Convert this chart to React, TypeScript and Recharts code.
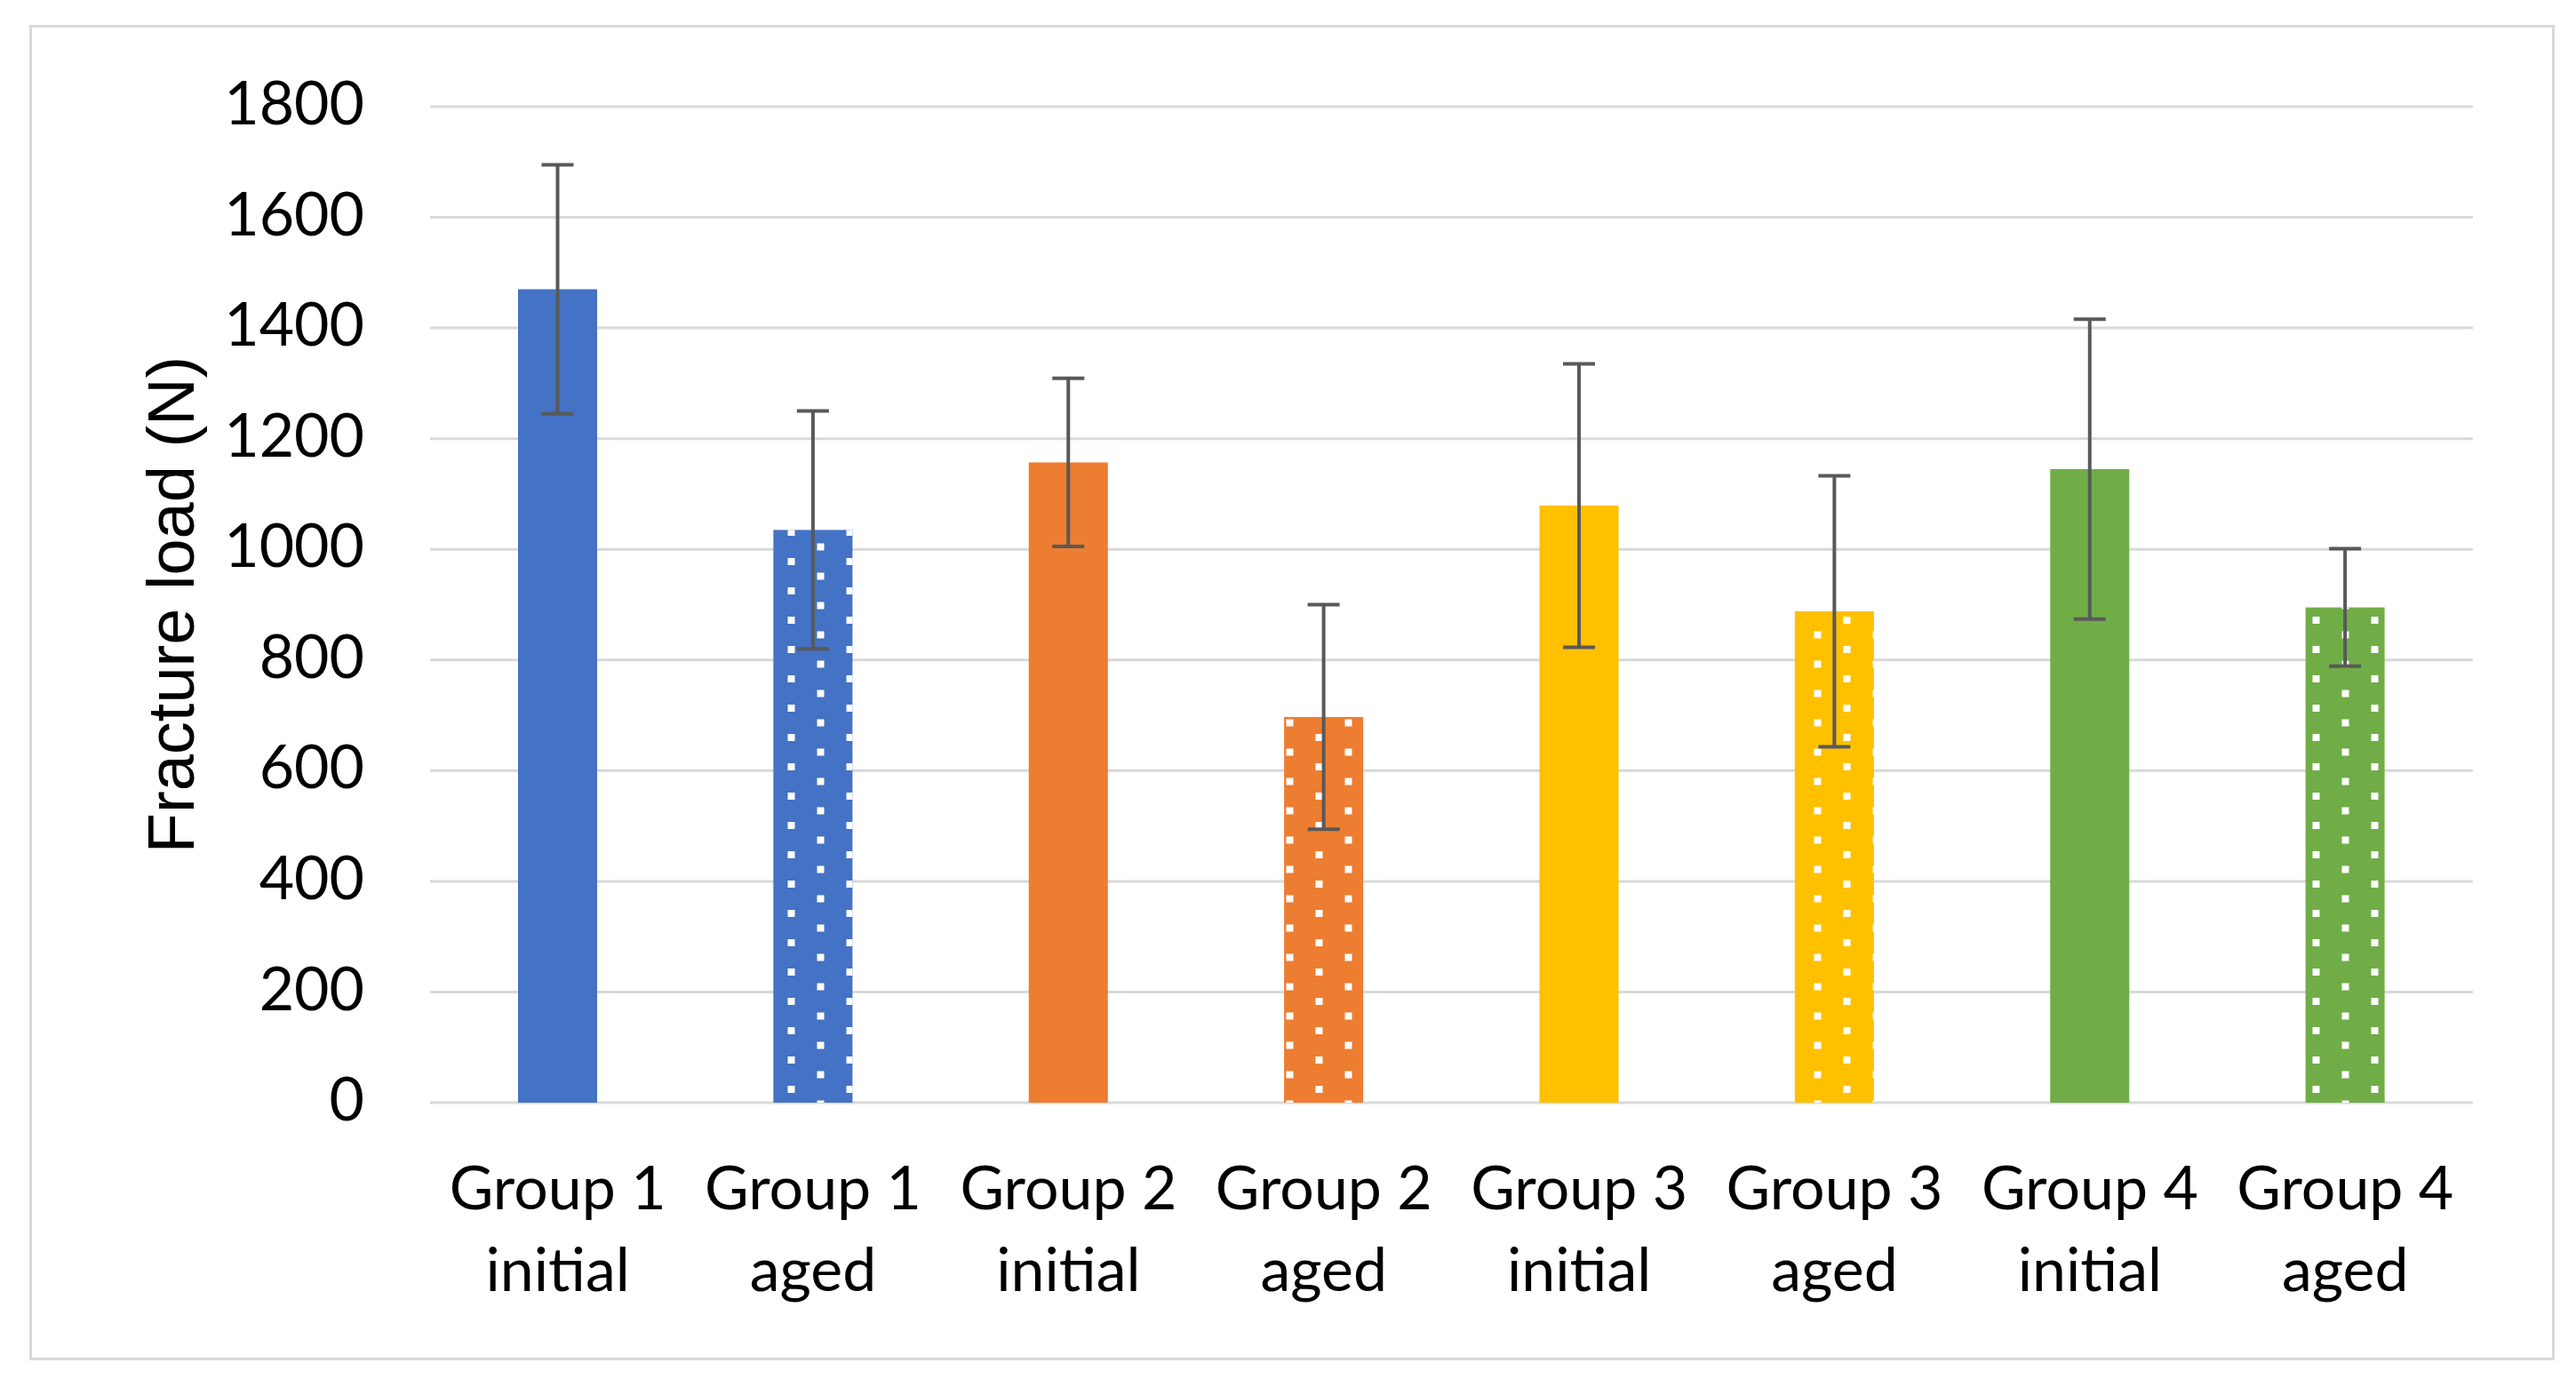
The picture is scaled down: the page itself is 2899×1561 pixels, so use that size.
import React from "react";
import { BarChart, Bar, XAxis, YAxis, CartesianGrid, ErrorBar, Label } from "recharts";

// Fracture load per group (N)
const groupNames = ["Group 1", "Group 1", "Group 2", "Group 2", "Group 3", "Group 3", "Group 4", "Group 4"];
const states = ["initial", "aged", "initial", "aged", "initial", "aged", "initial", "aged"];
const meanLoad = [1470, 1035, 1157, 697, 1079, 888, 1145, 895];
const sdLoad = [225, 215, 152, 203, 256, 245, 271, 106];
const yTicks = [0, 200, 400, 600, 800, 1000, 1200, 1400, 1600, 1800];

// Office palette: blue, orange, gold, green
const groupColors = ["#4472C4", "#4472C4", "#ED7D31", "#ED7D31", "#FFC000", "#FFC000", "#70AD47", "#70AD47"];

const chartData = groupNames.map((name, i) => ({
  name: `${name}\n${states[i]}`,
  load: meanLoad[i],
  sd: sdLoad[i],
  color: groupColors[i],
  aged: states[i] === "aged",
}));

const W = 2899;
const H = 1561;
const tickFont = "Lato, 'Open Sans', sans-serif";
const gridColor = "#D9D9D9";

/** Solid bar, with the white dot overlay for aged samples */
function LoadBar(props: any) {
  const { x, y, width, height, payload } = props;
  if (!height || height <= 0) return null;
  return (
    <g>
      <rect x={x} y={y} width={width} height={height} fill={payload.color} />
      {payload.aged && <rect x={x} y={y} width={width} height={height} fill="url(#agedDots)" />}
    </g>
  );
}

/** Two-line category label: "Group n" over "initial"/"aged" */
function CategoryTick(props: any) {
  const { x, y, payload } = props;
  const [line1, line2] = String(payload.value).split("\n");
  return (
    <text x={x} y={y} textAnchor="middle" fill="#000" fontFamily={tickFont} fontSize={68}>
      <tspan x={x} dy={120}>{line1}</tspan>
      <tspan x={x} dy={92}>{line2}</tspan>
    </text>
  );
}

export default function App() {
  return (
    <div style={{ position: "relative", width: W, height: H, background: "#fff" }}>
      <style>{`body { margin: 0; }`}</style>
      {/* outer chart border */}
      <div
        style={{
          position: "absolute",
          left: 33,
          top: 28,
          width: 2842,
          height: 1503,
          border: `3px solid ${gridColor}`,
          boxSizing: "border-box",
        }}
      />
      <div style={{ position: "absolute", left: 0, top: 0 }}>
        <BarChart
          width={W}
          height={H}
          data={chartData}
          margin={{ top: 120, right: 116, left: 184, bottom: 120 }}
        >
          <defs>
            <pattern id="agedDots" patternUnits="userSpaceOnUse" x={2602.5} y={694} width={66} height={33}>
              <rect x={0} y={0} width={8} height={8} fill="#fff" />
              <rect x={33} y={16.5} width={8} height={8} fill="#fff" />
            </pattern>
          </defs>
          <CartesianGrid vertical={false} stroke={gridColor} strokeWidth={3} />
          <XAxis
            dataKey="name"
            axisLine={false}
            tickLine={false}
            tickSize={0}
            tickMargin={0}
            height={200}
            interval={0}
            tick={<CategoryTick />}
          />
          <YAxis
            width={300}
            domain={[0, 1800]}
            ticks={yTicks}
            axisLine={false}
            tickLine={false}
            tickSize={0}
            tickMargin={74}
            tick={{ fill: "#000", fontFamily: tickFont, fontSize: 68, dy: -4 }}
          >
            <Label
              value="Fracture load (N)"
              angle={-90}
              position="insideLeft"
              offset={0}
              dx={8}
              style={{ fill: "#000", fontFamily: "'Liberation Sans', Arial, sans-serif", fontSize: 74, textAnchor: "middle" }}
            />
          </YAxis>
          <Bar dataKey="load" barSize={89} shape={<LoadBar />} isAnimationActive={false}>
            <ErrorBar dataKey="sd" direction="y" width={18} stroke="#595959" strokeWidth={4} isAnimationActive={false} />
          </Bar>
        </BarChart>
      </div>
    </div>
  );
}
